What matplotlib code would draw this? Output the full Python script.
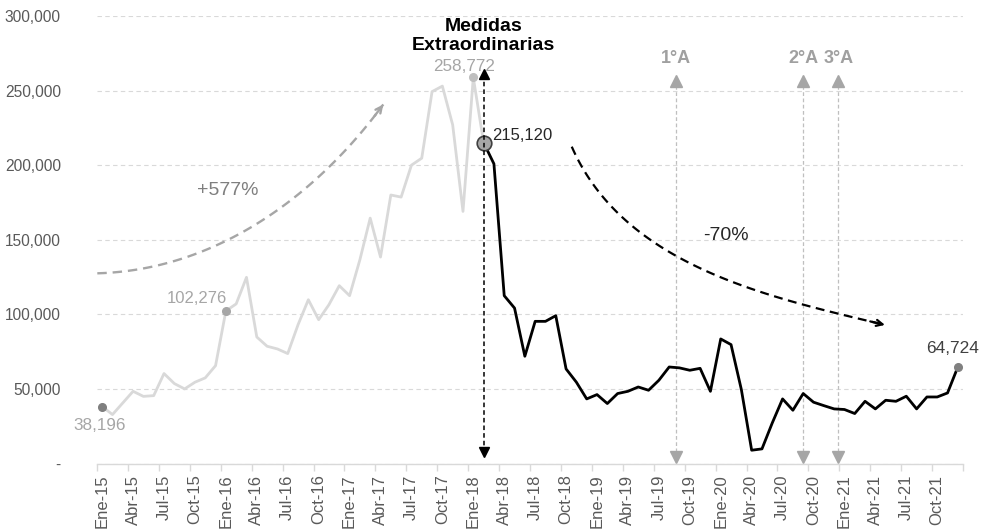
import numpy as np
import matplotlib
matplotlib.use("Agg")
import matplotlib.pyplot as plt
from matplotlib.ticker import FuncFormatter, FixedLocator

plt.rcParams["font.family"] = ["Liberation Sans", "DejaVu Sans"]

# ---- data ----
month_abbr = ["Ene", "Feb", "Mar", "Abr", "May", "Jun", "Jul", "Ago", "Sep", "Oct", "Nov", "Dic"]
years = list(range(15, 22))
periods = [f"{m}-{y}" for y in years for m in month_abbr]

values = [
    38196, 32800, 40600, 48400, 45000, 45500, 60300, 53600, 50000, 54500, 57400, 65600,
    102276, 107000, 124800, 84800, 78600, 76800, 73700, 93000, 109800, 96400, 106500, 119200,
    112500, 136600, 164500, 138400, 180000, 178600, 200000, 204700, 249300, 253000, 227000, 169000,
    258772, 215120, 200900, 112500, 104200, 71900, 95300, 95300, 99100, 63400, 54500, 43300,
    46200, 40200, 46900, 48400, 51300, 49100, 55800, 64700, 64100, 62500, 63800, 48400,
    83500, 79700, 49600, 8900, 9800, 27200, 43300, 35700, 46900, 41100, 38800, 36600,
    36200, 33500, 41700, 36600, 42400, 41700, 45100, 36600, 44600, 44600, 47300, 64724,
]
measures_idx = 37            # Feb-18: "Medidas Extraordinarias"
highlight_idx = [0, 12, 36, 83]
highlight_colors = ["#7f7f7f", "#a6a6a6", "#bfbfbf", "#808080"]
amnesty_labels = ["1°A", "2°A", "3°A"]
amnesty_pos = [55.7, 68.0, 71.4]

# guide points of the two hand-drawn trend arrows (month index, value)
growth_guide = [(-0.47, 127500), (5.29, 134200), (12.72, 149800), (18.22, 176600),
                (22.10, 200100), (27.27, 240700)]
decline_guide = [(45.55, 212400), (47.64, 183400), (50.88, 163200), (55.73, 139800),
                 (60.58, 123000), (68.01, 106300), (71.25, 100700), (75.93, 92900)]

x = np.arange(len(values))
v = np.array(values)

# pixel-per-unit scales, used to make the curve fit isotropic on screen
SX, SY = 10.31, 447.5 / 300000


def bezier_fit(points, n=120):
    """Least-squares cubic Bezier through the guide points (fixed end points)."""
    q = np.array(points, dtype=float) * [SX, SY]
    d = np.r_[0, np.cumsum(np.hypot(*np.diff(q, axis=0).T))]
    t = d / d[-1]
    p0, p3 = q[0], q[-1]
    b0, b1, b2, b3 = (1 - t) ** 3, 3 * (1 - t) ** 2 * t, 3 * (1 - t) * t ** 2, t ** 3
    rhs = q - np.outer(b0, p0) - np.outer(b3, p3)
    A = np.column_stack([b1, b2])
    (p1, p2), *_ = np.linalg.lstsq(A, rhs, rcond=None)
    s = np.linspace(0, 1, n)[:, None]
    c = (1 - s) ** 3 * p0 + 3 * (1 - s) ** 2 * s * p1 + 3 * (1 - s) * s ** 2 * p2 + s ** 3 * p3
    return c / [SX, SY]


def trend_arrow(ax, guide, color, lw):
    curve = bezier_fit(guide)
    ax.plot(curve[:, 0], curve[:, 1], color=color, lw=lw, ls=(0, (4, 2.5)),
            zorder=3, clip_on=False)
    ax.annotate("", xy=tuple(curve[-1]), xytext=tuple(curve[-6]),
                arrowprops=dict(arrowstyle="->,head_length=0.45,head_width=0.22", color=color,
                                lw=lw, shrinkA=0, shrinkB=0), zorder=3)


# ---- figure ----
W, H = 982, 531
fig = plt.figure(figsize=(W / 100, H / 100), dpi=100)
ax = fig.add_axes([97 / W, (H - 463.5) / H, (963 - 97) / W, (463.5 - 16) / H])
ax.set_xlim(-0.5, len(values) - 0.5)
ax.set_ylim(0, 300000)

for s in ["left", "right", "top"]:
    ax.spines[s].set_visible(False)
ax.spines["bottom"].set_color("#d9d9d9")
ax.spines["bottom"].set_linewidth(1.0)

ax.yaxis.grid(True, linestyle=(0, (4, 3)), color="#d9d9d9", linewidth=0.8)
ax.set_axisbelow(True)
ax.set_yticks(np.arange(0, 300001, 50000))
ax.yaxis.set_major_formatter(FuncFormatter(lambda val, _: "-" if val == 0 else f"{val:,.0f}"))
ax.tick_params(axis="y", length=0, pad=26, labelsize=11.2, labelcolor="#595959")

ax.xaxis.set_major_locator(FixedLocator(x[::3]))
ax.set_xticklabels(periods[::3], rotation=90, fontsize=12, color="#595959")
ax.xaxis.set_minor_locator(FixedLocator(np.arange(-0.5, len(values), 3)))
ax.tick_params(axis="x", which="major", length=0, pad=8)
ax.tick_params(axis="x", which="minor", length=5, color="#d9d9d9", width=1)

# ---- series ----
ax.plot(x[:measures_idx + 1], v[:measures_idx + 1], color="#d9d9d9", lw=2.0, zorder=3)
ax.plot(x[measures_idx:], v[measures_idx:], color="black", lw=2.0, zorder=4)

for i, c in zip(highlight_idx, highlight_colors):
    ax.plot(x[i], v[i], "o", ms=5.5, color=c, mec=c, zorder=5)
ax.plot(x[measures_idx], v[measures_idx], "o", ms=10.5, color="#a6a6a6", mec="#404040",
        mew=1.2, zorder=6)

# ---- value labels ----
ax.annotate(f"{values[0]:,}", (x[0], v[0]), xytext=(-3, -19), textcoords="offset pixels",
            ha="center", va="center", fontsize=12.3, color="#a6a6a6")
ax.annotate(f"{values[12]:,}", (x[12], v[12]), xytext=(1, 12), textcoords="offset pixels",
            ha="right", va="center", fontsize=12, color="#a6a6a6")
ax.annotate(f"{values[36]:,}", (x[36], v[36]), xytext=(-9, 11), textcoords="offset pixels",
            ha="center", va="center", fontsize=12.3, color="#a6a6a6")
ax.annotate(f"{values[measures_idx]:,}", (x[measures_idx], v[measures_idx]), xytext=(9, 7),
            textcoords="offset pixels", ha="left", va="center", fontsize=12, color="#262626")
ax.annotate(f"{values[83]:,}", (x[83], v[83]), xytext=(-5, 18), textcoords="offset pixels",
            ha="center", va="center", fontsize=12.5, color="#404040")

# ---- "Medidas Extraordinarias" marker line ----
ax.plot([x[measures_idx]] * 2, [7000, 259000], color="black", lw=1.1, ls=(0, (3, 2)), zorder=7)
ax.plot(x[measures_idx], 261000, marker="^", ms=7, color="black", zorder=7)
ax.plot(x[measures_idx], 7500, marker="v", ms=7, color="black", zorder=7)
ax.text(x[measures_idx], 286500, "Medidas\nExtraordinarias", ha="center", va="center",
        fontsize=14, fontweight="bold", color="black", linespacing=1.15)

# ---- amnesty markers ----
for lab, p in zip(amnesty_labels, amnesty_pos):
    ax.plot([p, p], [4000, 255000], color="#bfbfbf", lw=0.9, ls=(0, (3, 2)), zorder=2)
    ax.plot(p, 256500, marker="^", ms=8, color="#a6a6a6", zorder=2)
    ax.plot(p, 4400, marker="v", ms=8, color="#a6a6a6", zorder=2)
    ax.text(p, 271500, lab, ha="center", va="center", fontsize=13, fontweight="bold",
            color="#a0a0a0")

# ---- trend arrows ----
trend_arrow(ax, growth_guide, "#a6a6a6", 1.7)
ax.text(12.2, 183000, "+577%", ha="center", va="center", fontsize=14, color="#7f7f7f")

trend_arrow(ax, decline_guide, "black", 1.6)
ax.text(60.5, 152900, "-70%", ha="center", va="center", fontsize=14, color="#262626")

fig.savefig("out.png", dpi=100)
